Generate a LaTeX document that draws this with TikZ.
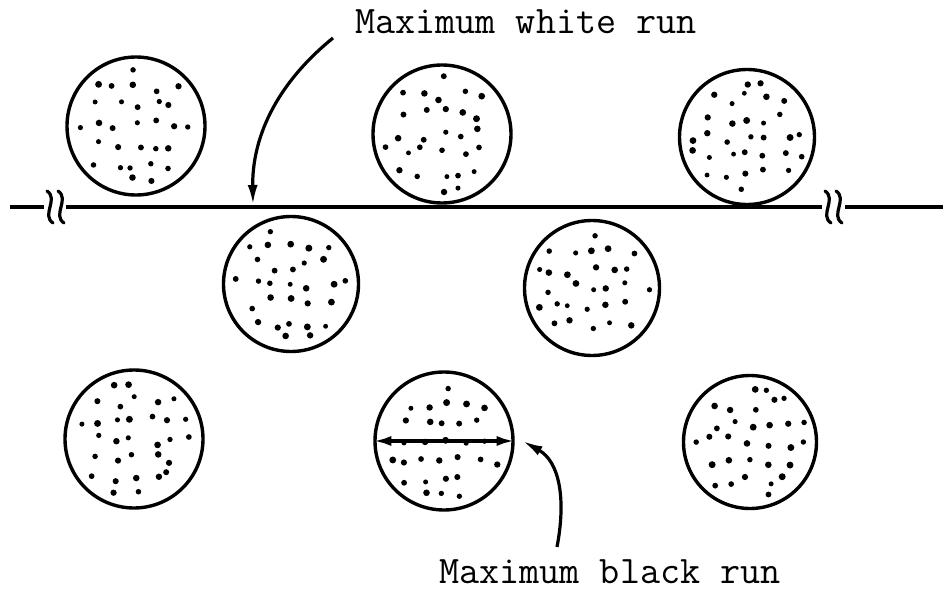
\documentclass[tikz,border=0pt]{standalone}
\usetikzlibrary{arrows.meta}

% scattered specks inside a disc (jittered grid)
\newcommand{\speckle}[2]{%
  \pgfmathsetseed{#2}%
  \foreach \gi in {-3,...,3}{%
    \foreach \gj in {-3,...,3}{%
      \pgfmathsetmacro{\px}{\gi*19+(rnd-0.5)*12}%
      \pgfmathsetmacro{\py}{\gj*19+(rnd-0.5)*12}%
      \pgfmathsetmacro{\dr}{2.4+rnd*1.1}%
      \pgfmathtruncatemacro{\keep}{((\px)*(\px)+(\py)*(\py))<3400 ? 1 : 0}%
      \ifnum\keep=1 \fill ([shift={(\px,\py)}]#1.center) circle (\dr); \fi
    }}}

\begin{document}
\begin{tikzpicture}[x=1pt, y=-1pt,
  disc/.style={draw, circle, line width=3.4pt, inner sep=0pt, minimum size=138pt},
  runline/.style={line width=3.4pt},
  callout/.style={line width=3.2pt, -{Latex[length=20pt,width=10pt]}},
  runtext/.style={font=\fontsize{39}{42}\selectfont\ttfamily}]
\useasboundingbox (0,0) rectangle (946,602);

%% top row
\node[disc] (c1) at (136,126) {};
\node[disc] (c2) at (442,134) {};
\node[disc, minimum size=135pt] (c3) at (747,137) {};
%% middle row
\node[disc, minimum size=135pt] (c4) at (291,284) {};
\node[disc, minimum size=135pt] (c5) at (592,288) {};
%% bottom row
\node[disc] (c6) at (134,439) {};
\node[disc] (c7) at (444,441) {};
\node[disc, minimum size=133pt] (c8) at (750,442) {};

\speckle{c1}{11} \speckle{c2}{23} \speckle{c3}{37}
\speckle{c4}{41} \speckle{c5}{53}
\speckle{c6}{67} \speckle{c7}{71} \speckle{c8}{89}

%% scan line with break marks
\draw[runline] (10,207) -- (44,207);
\draw[runline] (66,207) -- (822,207);
\draw[runline] (845,207) -- (943,207);
\foreach \bx in {50,61,828,839}
  \draw[line width=3.2pt, line cap=round]
    (\bx-3,191) .. controls (\bx+9,199) and (\bx-9,215) .. (\bx+3,223);

%% labels
\node[runtext] (wtext) at (526,22) {Maximum white run};
\node[runtext] (btext) at (610,572) {Maximum black run};

\coordinate (wtail) at (333,38);
\coordinate (wtip) at (253,205);
\draw[callout] (wtail) .. controls (274,86) and (252,140) .. (wtip);

\coordinate (btail) at (557,547);
\draw[callout] (btail) .. controls (566,500) and (560,462) .. ([xshift=8pt]c7.east);

\draw[runline, {Latex[length=18pt,width=10pt]}-{Latex[length=18pt,width=10pt]}]
  (c7.west) -- (c7.east);
\end{tikzpicture}
\end{document}
